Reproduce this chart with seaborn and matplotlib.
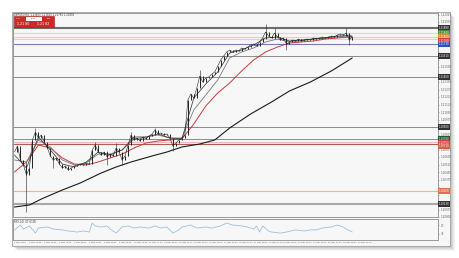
import matplotlib
matplotlib.use("Agg")
import matplotlib.pyplot as plt
import seaborn as sns
import pandas as pd
import numpy as np
from matplotlib.patches import Rectangle
from matplotlib.ticker import MultipleLocator, FixedLocator, FormatStrFormatter

# ---------------- data ----------------
close = [1.2065, 1.2071, 1.2057, 1.2052, 1.2042, 1.2049, 1.2077, 1.2085, 1.2079, 1.2082,
         1.2075, 1.2069, 1.2061, 1.2057, 1.2059, 1.2053, 1.2049, 1.2051, 1.2047, 1.2049,
         1.2051, 1.2052, 1.2053, 1.2052, 1.2054, 1.2053, 1.2067, 1.2072, 1.2065, 1.2062,
         1.2065, 1.2060, 1.2063, 1.2061, 1.2069, 1.2065, 1.2057, 1.2061, 1.2072, 1.2082,
         1.2077, 1.2079, 1.2076, 1.2080, 1.2078, 1.2081, 1.2083, 1.2087, 1.2083, 1.2084,
         1.2082, 1.2083, 1.2079, 1.2071, 1.2074, 1.2077, 1.2079, 1.2082, 1.2117, 1.2123,
         1.2119, 1.2129, 1.2141, 1.2135, 1.2139, 1.2140, 1.2143, 1.2145, 1.2151, 1.2157,
         1.2161, 1.2165, 1.2167, 1.2165, 1.2167, 1.2166, 1.2169, 1.2168, 1.2170, 1.2172,
         1.2173, 1.2171, 1.2175, 1.2179, 1.2185, 1.2181, 1.2179, 1.2184, 1.2180, 1.2177,
         1.2179, 1.2173, 1.2175, 1.2177, 1.2176, 1.2178, 1.2176, 1.2177, 1.2178, 1.2177,
         1.2179, 1.2178, 1.2179, 1.2180, 1.2179, 1.2180, 1.2181, 1.2180, 1.2182, 1.2183,
         1.2182, 1.2184, 1.2177, 1.2180]
bar_index = list(range(len(close)))

wick_index = [4, 7, 13, 27, 31, 34, 36, 39, 47, 53, 62, 84, 87, 91, 111, 112]
wick_low   = [1.2005, 1.2079, 1.2049, 1.2067, 1.2052, 1.2063, 1.2052, 1.2077, 1.2082, 1.2066,
              1.2133, 1.2178, 1.2178, 1.2167, 1.2181, 1.2172]
wick_high  = [1.2055, 1.2089, 1.2060, 1.2075, 1.2066, 1.2074, 1.2063, 1.2085, 1.2089, 1.2075,
              1.2147, 1.2193, 1.2189, 1.2177, 1.2189, 1.2184]

ma_index = [0, 4, 8, 12, 16, 20, 24, 28, 32, 36, 40, 44, 48, 52, 56, 60, 64, 68, 72, 76,
            80, 84, 88, 92, 96, 100, 104, 108, 112, 113]
ma_red = [1.2045, 1.2055, 1.2072, 1.2069, 1.2059, 1.2053, 1.2052, 1.2055, 1.2059, 1.2063,
          1.2069, 1.2074, 1.2076, 1.2077, 1.2078, 1.2093, 1.2111, 1.2124, 1.2134, 1.2146,
          1.2157, 1.2165, 1.2170, 1.2174, 1.2175, 1.2176, 1.2178, 1.2179, 1.2180, 1.2180]
ma_gray = [1.2057, 1.2055, 1.2077, 1.2070, 1.2057, 1.2052, 1.2054, 1.2063, 1.2063, 1.2067,
           1.2078, 1.2080, 1.2082, 1.2079, 1.2079, 1.2107, 1.2122, 1.2137, 1.2159, 1.2165,
           1.2169, 1.2175, 1.2178, 1.2175, 1.2176, 1.2178, 1.2179, 1.2180, 1.2182, 1.2181]
ma_dark = [1.2062, 1.2049, 1.2080, 1.2067, 1.2053, 1.2050, 1.2055, 1.2065, 1.2062, 1.2067,
           1.2080, 1.2080, 1.2083, 1.2079, 1.2078, 1.2119, 1.2133, 1.2145, 1.2164, 1.2167,
           1.2172, 1.2179, 1.2180, 1.2176, 1.2177, 1.2178, 1.2179, 1.2181, 1.2181, 1.2180]

ma200_index = [0, 5, 9, 16, 22, 29, 34, 39, 46, 51, 56, 62, 67, 72, 79, 86, 92, 99, 106, 113]
ma200 = [1.2010, 1.2012, 1.2018, 1.2027, 1.2034, 1.2044, 1.2050, 1.2055, 1.2061, 1.2065,
         1.2070, 1.2073, 1.2077, 1.2089, 1.2103, 1.2115, 1.2126, 1.2135, 1.2146, 1.2159]

rsi_index = [0, 2, 3, 5, 7, 8, 11, 13, 16, 18, 21, 23, 25, 26, 27, 29, 31, 32, 34, 36,
             38, 40, 42, 45, 47, 49, 51, 53, 55, 56, 59, 61, 64, 66, 69, 71, 73, 76, 78, 80,
             81, 82, 83, 85, 86, 89, 91, 94, 97, 99, 101, 103, 106, 108, 110, 111, 113]
rsi = [48, 71, 52, 67, 33, 57, 62, 52, 48, 43, 38, 43, 38, 81, 67, 62, 67, 52, 33, 62,
       67, 57, 62, 57, 67, 57, 62, 33, 48, 62, 71, 57, 62, 57, 67, 81, 71, 67, 62, 52,
       67, 38, 67, 43, 38, 33, 38, 48, 43, 48, 48, 57, 62, 71, 62, 52, 38]

level_prices = [1.2189, 1.2184, 1.2180, 1.2178, 1.2173, 1.2161, 1.2140, 1.2090,
                1.2078, 1.2075, 1.2073, 1.2026, 1.2013]
level_colors = ['#6e6e6e', '#cfe3bf', '#ecd2a8', '#f2cccc', '#7c7cb8', '#8a8a8a', '#8a8a8a',
                '#8a8a8a', '#8a8a8a', '#f0b8b8', '#b06050', '#eeb0a0', '#a8a8a8']
level_widths = [1.5, 0.9, 0.9, 0.8, 0.8, 0.7, 0.7, 0.7, 0.7, 0.8, 0.8, 0.8, 1.5]
label_colors = ['#333333', '#3c8c3c', '#e08a30', '#d04040', '#3050b8', '#333333', '#333333',
                '#333333', '#1f5a2a', '#d04040', '#d06040', '#e07050', '#333333']

date_ticks = [0, 5, 10, 15, 20, 25, 30, 35, 40, 45, 50, 55, 60, 65, 70, 75, 80, 85, 90, 95,
              100, 105, 110, 115]
date_labels = ["2 May 2018", "2 May 20:00", "3 May 16:00", "4 May 12:00", "7 May 08:00",
               "8 May 04:00", "9 May 00:00", "9 May 20:00", "10 May 16:00", "11 May 12:00",
               "14 May 08:00", "15 May 04:00", "16 May 00:00", "16 May 20:00", "17 May 16:00",
               "18 May 12:00", "21 May 08:00", "22 May 04:00", "23 May 00:00", "23 May 20:00",
               "24 May 16:00", "25 May 12:00", "28 May 08:00", "29 May 04:00"]

# ---------------- figure ----------------
sns.set_style("white")
plt.rcParams['font.family'] = ['DejaVu Sans']
W, H = 460, 258
fig = plt.figure(figsize=(4.6, 2.58), dpi=100)
fig.patch.set_facecolor('white')

def fx(px):
    return px / W

def fy(py):
    return 1 - py / H

# drop shadow + frame (behind the axes)
for k, a in enumerate([0.04, 0.05, 0.06, 0.07, 0.08]):
    off = 5 - k
    fig.patches.append(Rectangle((fx(12 + off), fy(246 + off)), fx(438), 234 / H,
                                 transform=fig.transFigure, facecolor='black',
                                 edgecolor='none', alpha=a, zorder=-10))
fig.patches.append(Rectangle((fx(12), fy(246)), fx(438), 234 / H, transform=fig.transFigure,
                             facecolor='#f6f6f6', edgecolor='#a0a0a0', lw=0.6, zorder=-5))

ax = fig.add_axes([fx(13), fy(217), fx(425), (217 - 13) / H])
ax2 = fig.add_axes([fx(13), fy(240), fx(425), (240 - 219) / H])
for a in (ax, ax2):
    a.set_zorder(2)
    a.set_facecolor('#f7f7f7')
    for s in a.spines.values():
        s.set_color('#9a9a9a')
        s.set_linewidth(0.7)

# level lines
for p, c, w in zip(level_prices, level_colors, level_widths):
    ax.axhline(p, color=c, lw=w, zorder=1)

# moving averages
df_ma = pd.DataFrame({'i': ma_index, 'red': ma_red, 'gray': ma_gray, 'dark': ma_dark})
sns.lineplot(data=df_ma, x='i', y='red', ax=ax, color='#c83c3c', lw=0.7, zorder=3)
sns.lineplot(data=df_ma, x='i', y='gray', ax=ax, color='#7a7a7a', lw=0.6, zorder=3)
sns.lineplot(data=df_ma, x='i', y='dark', ax=ax, color='#3a3a3a', lw=0.55, zorder=3)
df200 = pd.DataFrame({'i': ma200_index, 'ma': ma200})
sns.lineplot(data=df200, x='i', y='ma', ax=ax, color='#1a1a1a', lw=0.8, zorder=3)

# price
dfp = pd.DataFrame({'i': bar_index, 'close': close})
sns.lineplot(data=dfp, x='i', y='close', ax=ax, color='#222222', lw=0.4, zorder=4)
opens = [close[0]] + close[:-1]
ax.vlines(bar_index, opens, close, color='#222222', lw=0.7, zorder=4)
ax.vlines(wick_index, wick_low, wick_high, color='#222222', lw=0.4, zorder=4)

ax.set_xlim(-0.5, 141.7)
ax.set_ylim(1.2000, 1.2204)
ax.set_xlabel('')
ax.set_ylabel('')
ax.set_xticks([])
ax.yaxis.tick_right()
ax.yaxis.set_major_locator(MultipleLocator(0.00075))
ax.yaxis.set_major_formatter(FormatStrFormatter('%.5f'))
ax.tick_params(axis='y', labelsize=2.0, length=1, width=0.4, pad=0.8, colors='#666666')
fig.canvas.draw()
for t in ax.get_yticklabels():
    v = t.get_position()[1]
    if min(abs(v - p) for p in level_prices) < 0.0004:
        t.set_visible(False)

# right-axis level tags, nudged apart so they do not collide
tag_y = []
prev = None
for p in level_prices:
    y = p if prev is None else min(p, prev - 0.00036)
    tag_y.append(y)
    prev = y
for p, y, c in zip(level_prices, tag_y, label_colors):
    ax.text(1.002, y, f"{p:.5f}", transform=ax.get_yaxis_transform(), fontsize=1.9,
            color='white', va='center', ha='left', zorder=6, clip_on=False,
            bbox=dict(boxstyle='square,pad=0.2', fc=c, ec='none'))

# header text + one-click trading panel (inside the top of the chart)
ax.text(0.003, 0.999, "GBPUSD,H4  1.21803 1.21823 1.21782 1.21806", transform=ax.transAxes,
        fontsize=1.8, color='#333333', va='top', ha='left', zorder=9)
ax.add_patch(Rectangle((0.002, 0.930), 0.094, 0.056, transform=ax.transAxes,
                       facecolor='#d02828', edgecolor='#a01818', lw=0.4, zorder=7))
ax.add_patch(Rectangle((0.030, 0.962), 0.038, 0.018, transform=ax.transAxes,
                       facecolor='white', edgecolor='none', zorder=8))
ax.text(0.049, 0.971, "0.01", transform=ax.transAxes, fontsize=1.7, color='#333333',
        ha='center', va='center', zorder=9)
ax.text(0.014, 0.971, "SELL", transform=ax.transAxes, fontsize=1.5, color='white',
        ha='center', va='center', zorder=9)
ax.text(0.084, 0.971, "BUY", transform=ax.transAxes, fontsize=1.5, color='white',
        ha='center', va='center', zorder=9)
ax.text(0.024, 0.944, "1.21 80", transform=ax.transAxes, fontsize=2.3, color='white',
        ha='center', va='center', zorder=9)
ax.text(0.072, 0.944, "1.21 82", transform=ax.transAxes, fontsize=2.3, color='white',
        ha='center', va='center', zorder=9)

# indicator pane
dfr = pd.DataFrame({'i': rsi_index, 'rsi': rsi})
sns.lineplot(data=dfr, x='i', y='rsi', ax=ax2, color='#9cc0e0', lw=0.6)
ax2.set_xlim(-0.5, 141.7)
ax2.set_ylim(0, 100)
ax2.set_xlabel('')
ax2.set_ylabel('')
ax2.yaxis.tick_right()
ax2.yaxis.set_major_locator(FixedLocator([30, 70]))
ax2.tick_params(axis='y', labelsize=1.9, length=1, width=0.4, pad=0.8, colors='#666666')
ax2.xaxis.set_major_locator(FixedLocator(date_ticks))
ax2.set_xticklabels(date_labels)
ax2.tick_params(axis='x', labelsize=1.45, length=1, width=0.4, pad=0.6, colors='#555555')
for t in ax2.get_xticklabels():
    t.set_ha('left')
ax2.text(0.002, 0.96, "RSI(14) 47.6105", transform=ax2.transAxes, fontsize=2.0,
         color='#444444', va='top', ha='left')

fig.savefig("out.png", dpi=100, facecolor=fig.get_facecolor())
